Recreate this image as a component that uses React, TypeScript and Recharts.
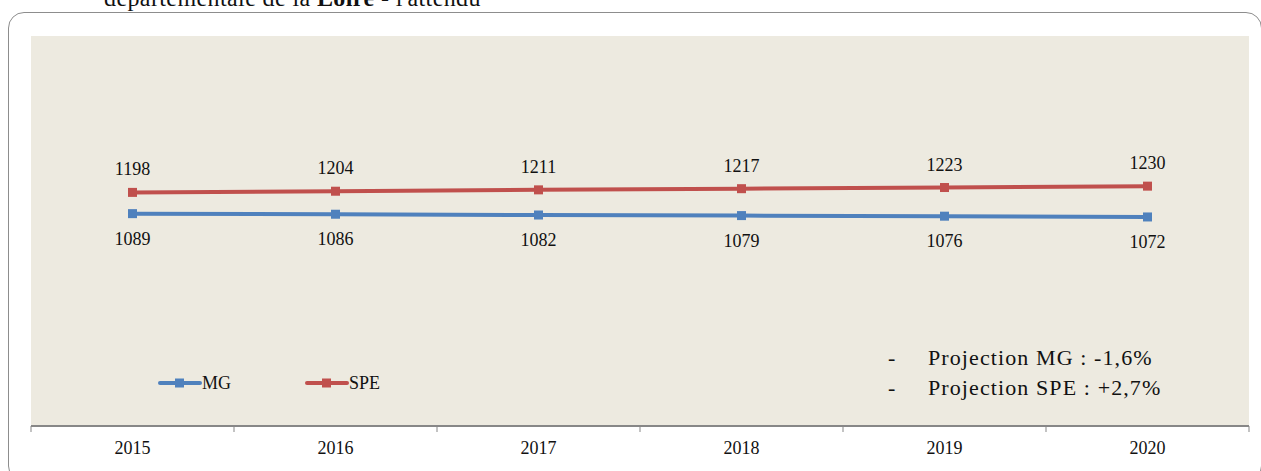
import React from "react";
import {
  LineChart,
  Line,
  XAxis,
  YAxis,
  CartesianGrid,
  Legend,
  LabelList,
} from "recharts";

const years = ["2015", "2016", "2017", "2018", "2019", "2020"];
const mgValues = [1089, 1086, 1082, 1079, 1076, 1072];
const speValues = [1198, 1204, 1211, 1217, 1223, 1230];
const projectionNotes = ["Projection MG : -1,6%", "Projection SPE : +2,7%"];

const data = years.map((year, i) => ({
  year,
  MG: mgValues[i],
  SPE: speValues[i],
}));

const W = 1261;
const H = 471;
const AXIS_H = 30;
const margin = { top: 36, right: 12, left: 31, bottom: 15 };
const BAND = (W - margin.left - margin.right) / years.length;
const FONT = '"Liberation Serif", "Times New Roman", serif';

const MG_COLOR = "#4F81BD";
const SPE_COLOR = "#C0504D";

// year label in the middle of the band, tick marks on the band edges
const YearTick = (props: any) => {
  const { x, y, payload, index } = props;
  const left = x - BAND / 2;
  const right = x + BAND / 2;
  return (
    <g>
      <line x1={left} y1={y} x2={left} y2={y + 6} stroke="#878787" strokeWidth={1} />
      {index === years.length - 1 && (
        <line x1={right} y1={y} x2={right} y2={y + 6} stroke="#878787" strokeWidth={1} />
      )}
      <text x={x} y={y + 28} textAnchor="middle" fontSize={18} fill="#111" fontFamily={FONT}>
        {payload.value}
      </text>
    </g>
  );
};

const squareDot = (color: string) => (props: any) => {
  const { cx, cy, index } = props;
  return <rect key={index} x={cx - 4.5} y={cy - 4.5} width={9} height={9} fill={color} />;
};

const labelAbove = (props: any) => {
  const { x, y, value, index } = props;
  return (
    <text key={index} x={x} y={y - 17} textAnchor="middle" fontSize={18} fill="#111" fontFamily={FONT}>
      {value}
    </text>
  );
};

const labelBelow = (props: any) => {
  const { x, y, value, index } = props;
  return (
    <text key={index} x={x} y={y + 31} textAnchor="middle" fontSize={18} fill="#111" fontFamily={FONT}>
      {value}
    </text>
  );
};

const LegendContent = (props: any) => {
  const { payload } = props;
  return (
    <div style={{ display: "flex" }}>
      {(payload || []).map((entry: any) => (
        <div key={entry.value} style={{ width: 147, display: "flex", alignItems: "center" }}>
          <svg width={44} height={10}>
            <line x1={2} y1={5} x2={42} y2={5} stroke={entry.color} strokeWidth={4} strokeLinecap="round" />
            <rect x={17} y={0.5} width={9} height={9} fill={entry.color} />
          </svg>
          <span style={{ fontSize: 18, color: "#111", lineHeight: "20px" }}>{entry.value}</span>
        </div>
      ))}
    </div>
  );
};

export default function App() {
  return (
    <div
      style={{
        position: "absolute",
        left: 0,
        top: 0,
        width: W,
        height: H,
        overflow: "hidden",
        background: "#fff",
        fontFamily: FONT,
      }}
    >
      <div
        style={{
          position: "absolute",
          left: 104,
          top: -14,
          fontSize: 24,
          lineHeight: "24px",
          letterSpacing: 0.4,
          color: "#111",
          whiteSpace: "nowrap",
        }}
      >
        départementale de la <b>Loire</b> - l'attendu
      </div>
      <div
        style={{
          position: "absolute",
          left: 8,
          top: 12,
          width: 1254,
          height: 470,
          border: "1.5px solid #8d8d8d",
          borderRadius: 16,
          boxSizing: "border-box",
        }}
      />
      <div style={{ position: "absolute", left: 0, top: 0 }}>
        <LineChart width={W} height={H} data={data} margin={margin}>
          <CartesianGrid fill="#EDEAE0" horizontal={false} vertical={false} />
          <XAxis
            dataKey="year"
            scale="band"
            height={AXIS_H}
            interval={0}
            tickSize={0}
            tickMargin={0}
            tickLine={false}
            axisLine={{ stroke: "#878787", strokeWidth: 2 }}
            tick={<YearTick />}
          />
          <YAxis hide domain={[0, 2000]} />
          <Legend
            layout="horizontal"
            verticalAlign="middle"
            align="center"
            content={<LegendContent />}
            wrapperStyle={{ left: 158, top: 373, width: 320 }}
          />
          <Line
            type="linear"
            dataKey="MG"
            stroke={MG_COLOR}
            strokeWidth={4}
            dot={squareDot(MG_COLOR)}
            activeDot={false}
            isAnimationActive={false}
          >
            <LabelList dataKey="MG" content={labelBelow} />
          </Line>
          <Line
            type="linear"
            dataKey="SPE"
            stroke={SPE_COLOR}
            strokeWidth={4}
            dot={squareDot(SPE_COLOR)}
            activeDot={false}
            isAnimationActive={false}
          >
            <LabelList dataKey="SPE" content={labelAbove} />
          </Line>
        </LineChart>
      </div>
      {projectionNotes.map((note, i) => (
        <div
          key={note}
          style={{
            position: "absolute",
            left: 888,
            top: 344 + i * 30,
            fontSize: 22,
            lineHeight: "28px",
            color: "#111",
            whiteSpace: "nowrap",
          }}
        >
          <span style={{ display: "inline-block", width: 40 }}>-</span>
          <span style={{ letterSpacing: 1.1 }}>{note}</span>
        </div>
      ))}
    </div>
  );
}
